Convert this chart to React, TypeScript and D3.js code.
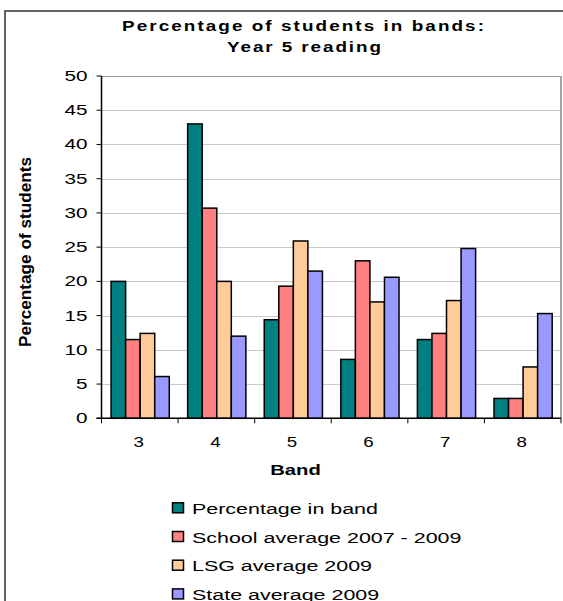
import React from "react";
import * as d3 from "d3";

const categories = ["3", "4", "5", "6", "7", "8"];
const seriesNames = [
  "Percentage in band",
  "School average 2007 - 2009",
  "LSG average 2009",
  "State average 2009",
];
const percentageInBand = [20, 43, 14.4, 8.6, 11.5, 2.9];
const schoolAverage = [11.5, 30.7, 19.3, 23, 12.4, 2.9];
const lsgAverage = [12.4, 20, 25.9, 17, 17.2, 7.5];
const stateAverage = [6.1, 12, 21.5, 20.6, 24.8, 15.3];
const yTicks = [0, 5, 10, 15, 20, 25, 30, 35, 40, 45, 50];
const colors = ["#008080", "#FF8080", "#FFCC99", "#9999FF"];

const seriesValues = [percentageInBand, schoolAverage, lsgAverage, stateAverage];

const SX = 1.38;

function SText(props: {
  x: number;
  y: number;
  anchor?: string;
  size: number;
  bold?: boolean;
  length?: number;
  sx?: number;
  children: React.ReactNode;
}) {
  const sx = props.sx ?? SX;
  return (
    <text
      transform={`translate(${props.x},${props.y}) scale(${sx},1)`}
      textAnchor={props.anchor ?? "start"}
      fontSize={props.size}
      fontWeight={props.bold ? "bold" : "normal"}
      textLength={props.length ? props.length / sx : undefined}
      lengthAdjust={props.length ? "spacing" : undefined}
    >
      {props.children}
    </text>
  );
}

export default function App() {
  const left = 101.5;
  const right = 561;
  const top = 76;
  const bottom = 418.3;

  const x = d3.scaleBand<string>().domain(categories).range([left, right]).padding(0);
  const bw = x.bandwidth();
  const inner = d3
    .scaleBand<string>()
    .domain(seriesNames)
    .range([bw * 0.125, bw * 0.885])
    .padding(0);
  const y = d3.scaleLinear().domain([0, 50]).range([bottom, top]);

  const font = "Arial, 'Liberation Sans', sans-serif";

  return (
    <svg
      width={563}
      height={601}
      style={{ position: "absolute", left: 0, top: 0, background: "#fff" }}
      fontFamily={font}
    >
      <rect x={0} y={0} width={563} height={601} fill="#fff" />
      {/* outer frame */}
      <path d="M5,605 V11 H570" fill="none" stroke="#333" strokeWidth={1.5} />

      {/* title */}
      <SText x={303} y={31} anchor="middle" size={14} bold sx={1.35} length={362}>
        Percentage of students in bands:
      </SText>
      <SText x={304} y={52} anchor="middle" size={14} bold sx={1.35} length={154}>
        Year 5 reading
      </SText>

      {/* gridlines */}
      {yTicks.map((t) => (
        <line
          key={"g" + t}
          x1={left}
          x2={right}
          y1={Math.round(y(t)) + 0.5}
          y2={Math.round(y(t)) + 0.5}
          stroke={t === 50 ? "#999" : "#c8c8c8"}
          strokeWidth={1}
        />
      ))}
      <line x1={right} x2={right} y1={top} y2={bottom} stroke="#888" strokeWidth={1.5} />

      {/* bars */}
      {seriesValues.map((vals, si) =>
        vals.map((v, ci) => {
          const bx = (x(categories[ci]) as number) + (inner(seriesNames[si]) as number);
          return (
            <rect
              key={si + "-" + ci}
              x={bx}
              y={y(v)}
              width={inner.bandwidth()}
              height={y(0) - y(v)}
              fill={colors[si]}
              stroke="#000"
              strokeWidth={1.5}
            />
          );
        })
      )}

      {/* axes */}
      <line x1={left} x2={left} y1={top} y2={bottom} stroke="#000" strokeWidth={1.5} />
      <line x1={left - 5} x2={right} y1={bottom} y2={bottom} stroke="#000" strokeWidth={1.5} />
      {yTicks.map((t) => (
        <g key={"t" + t}>
          <line x1={left - 5} x2={left} y1={y(t)} y2={y(t)} stroke="#000" strokeWidth={1} />
          <SText x={87.5} y={y(t) + 5} anchor="end" size={15}>
            {t}
          </SText>
        </g>
      ))}
      {categories.map((c) => (
        <line
          key={"xt" + c}
          x1={x(c) as number}
          x2={x(c) as number}
          y1={bottom}
          y2={bottom + 5}
          stroke="#000"
          strokeWidth={1}
        />
      ))}
      <line x1={right} x2={right} y1={bottom} y2={bottom + 5} stroke="#000" strokeWidth={1} />
      {categories.map((c) => (
        <SText key={"xl" + c} x={(x(c) as number) + bw / 2 - 1} y={446.7} anchor="middle" size={15} sx={1.25}>
          {c}
        </SText>
      ))}

      {/* axis titles */}
      <SText x={295.5} y={475} anchor="middle" size={15} bold sx={1.35}>
        Band
      </SText>
      <text
        transform="translate(30.5,252) rotate(-90) scale(1,1.3)"
        textAnchor="middle"
        fontWeight="bold"
        fontSize={13}
        textLength={190}
        lengthAdjust="spacingAndGlyphs"
      >
        Percentage of students
      </text>

      {/* legend */}
      {seriesNames.map((n, i) => {
        const base = 513.8 + i * 28.7;
        return (
          <g key={"lg" + i}>
            <rect x={172.5} y={base - 11} width={11} height={10} fill={colors[i]} stroke="#000" strokeWidth={1.5} />
            <SText x={192} y={base} size={15} sx={1.43}>
              {n}
            </SText>
          </g>
        );
      })}
    </svg>
  );
}
